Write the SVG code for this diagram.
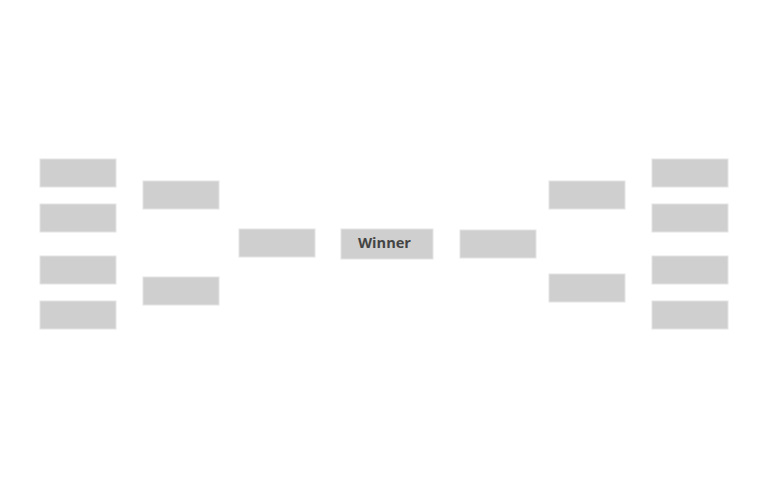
<svg xmlns="http://www.w3.org/2000/svg" width="768" height="488" viewBox="0 0 768 488">
<style>
.b{fill:#cfcfcf;stroke:#e4e4e4;stroke-width:1}
.t{font-family:"Open Sans","DejaVu Sans",sans-serif;font-weight:700;font-size:13.5px;fill:#444444;text-anchor:middle}
</style>
<rect width="768" height="488" fill="#ffffff"/>
<g id="connectors"></g>
<g id="l1a"><rect class="b" x="40" y="159" width="76" height="28"/></g>
<g id="l1b"><rect class="b" x="40" y="204" width="76" height="28"/></g>
<g id="l1c"><rect class="b" x="40" y="256" width="76" height="28"/></g>
<g id="l1d"><rect class="b" x="40" y="301" width="76" height="28"/></g>
<g id="l2a"><rect class="b" x="143" y="181" width="76" height="28"/></g>
<g id="l2b"><rect class="b" x="143" y="277" width="76" height="28"/></g>
<g id="l3"><rect class="b" x="239" y="229" width="76" height="28"/></g>
<g id="winner"><rect class="b" x="341" y="229" width="92" height="30"/><text class="t" x="384.5" y="247.5" textLength="53" lengthAdjust="spacingAndGlyphs">Winner</text></g>
<g id="r3"><rect class="b" x="460" y="230" width="76" height="28"/></g>
<g id="r2a"><rect class="b" x="549" y="181" width="76" height="28"/></g>
<g id="r2b"><rect class="b" x="549" y="274" width="76" height="28"/></g>
<g id="r1a"><rect class="b" x="652" y="159" width="76" height="28"/></g>
<g id="r1b"><rect class="b" x="652" y="204" width="76" height="28"/></g>
<g id="r1c"><rect class="b" x="652" y="256" width="76" height="28"/></g>
<g id="r1d"><rect class="b" x="652" y="301" width="76" height="28"/></g>
</svg>
